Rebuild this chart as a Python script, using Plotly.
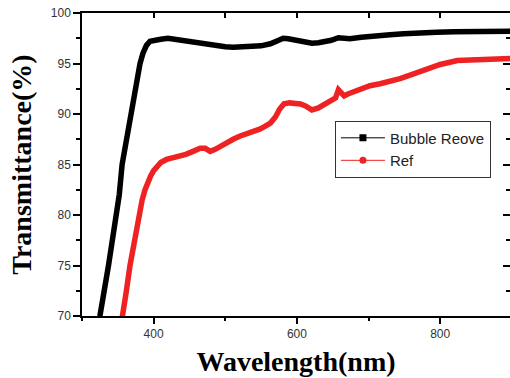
import plotly.graph_objects as go

# ---- data ----
wl_bubble = [318, 325, 337, 347, 352, 356, 362, 368, 374, 381, 385, 390, 395, 400, 410, 420,
             430, 442, 455, 465, 477, 488, 500, 511, 525, 539, 550, 563, 572, 581, 588, 595,
             609, 621, 630, 637, 648, 658, 665, 674, 690, 702, 712, 730, 749, 770, 795, 820,
             842, 865, 888, 900]
t_bubble = [67.5, 70, 75, 80, 82, 85, 87.5, 90, 92.5, 95, 96, 96.8, 97.2, 97.3, 97.4, 97.5,
            97.4, 97.15, 97.05, 96.95, 96.8, 96.7, 96.65, 96.62, 96.65, 96.68, 96.75, 96.95, 97.2, 97.5, 97.45, 97.35,
            97.2, 97.0, 97.05, 97.12, 97.3, 97.55, 97.45, 97.45, 97.6, 97.7, 97.8, 97.85, 97.95, 98.05, 98.1, 98.15,
            98.18, 98.2, 98.2, 98.2]

wl_ref = [352, 357, 362, 367, 373, 379, 384, 388, 392, 396, 400, 405, 410, 418, 425, 435,
          445, 455, 465, 472, 479, 486, 495, 503, 511, 520, 530, 539, 548, 556, 563, 570,
          576, 582, 590, 598, 605, 612, 621, 630, 637, 644, 649, 654, 658, 662, 666, 672,
          680, 690, 702, 716, 730, 744, 760, 782, 800, 824, 842, 861, 880, 900]
t_ref = [68, 70, 72.5, 75, 77.5, 80, 81.5, 82.5, 83.3, 83.9, 84.4, 84.9, 85.2, 85.5, 85.6, 85.8,
         86.0, 86.3, 86.6, 86.6, 86.3, 86.5, 86.9, 87.2, 87.5, 87.8, 88.0, 88.3, 88.5, 88.8, 89.1, 89.7,
         90.5, 91.0, 91.1, 91.05, 91.0, 90.8, 90.4, 90.6, 90.9, 91.2, 91.4, 91.6, 92.4, 92.1, 91.8, 92.0,
         92.2, 92.5, 92.8, 93.0, 93.2, 93.5, 93.9, 94.5, 94.9, 95.3, 95.35, 95.5, 95.55, 95.5]

series_names = ["Bubble Reove", "Ref"]
x_ticks = [400, 600, 800]
y_ticks = [70, 75, 80, 85, 90, 95, 100]

XR = [300, 897.5]
YR = [70, 100]

fig = go.Figure()

# thick data curves
fig.add_trace(go.Scatter(x=wl_bubble, y=t_bubble, mode="lines",
                         line=dict(color="black", width=5.5), showlegend=False, hoverinfo="skip"))
fig.add_trace(go.Scatter(x=wl_ref, y=t_ref, mode="lines",
                         line=dict(color="#ee2222", width=5.5), showlegend=False, hoverinfo="skip"))

# legend entries (line + symbol, as in the reference legend)
fig.add_trace(go.Scatter(x=[None], y=[None], mode="lines+markers", name=series_names[0],
                         line=dict(color="black", width=1),
                         marker=dict(symbol="square", size=7, color="black"),
                         xaxis="x2", yaxis="y2"))
fig.add_trace(go.Scatter(x=[None], y=[None], mode="lines+markers", name=series_names[1],
                         line=dict(color="#ee2222", width=1),
                         marker=dict(symbol="circle", size=7, color="#ee2222"),
                         xaxis="x2", yaxis="y2"))

tickfont = dict(family="Liberation Sans, Arial, sans-serif", size=12, color="#333333")
titlefont = dict(family="Liberation Serif, Times New Roman, serif", size=28, color="black", weight="bold")

fig.update_layout(
    width=510, height=378,
    margin=dict(l=82, r=0, t=13, b=62),
    paper_bgcolor="white", plot_bgcolor="white",
    showlegend=True,
    legend=dict(x=0.591, y=0.645, xanchor="left", yanchor="top",
                bgcolor="white", bordercolor="#333333", borderwidth=1,
                font=dict(family="Liberation Sans, Arial, sans-serif", size=15, color="#222222"),
                itemwidth=44, tracegroupgap=0),
    xaxis=dict(range=XR, tickmode="array", tickvals=x_ticks,
               ticks="outside", ticklen=6, tickwidth=1.5, tickcolor="black",
               minor=dict(tickmode="array", tickvals=[300, 500, 700], ticks="outside", ticklen=3,
                          tickwidth=1.5, tickcolor="black"),
               showline=True, linecolor="black", linewidth=1.5,
               showgrid=False, zeroline=False, tickfont=tickfont,
               title=dict(text="Wavelength(nm)", font=titlefont, standoff=11)),
    yaxis=dict(range=YR, tickmode="array", tickvals=y_ticks,
               ticks="outside", ticklen=7, tickwidth=1.5, tickcolor="black",
               minor=dict(tickmode="array", tickvals=[72.5, 77.5, 82.5, 87.5, 92.5, 97.5],
                          ticks="outside", ticklen=4, tickwidth=1.5, tickcolor="black"),
               showline=True, linecolor="black", linewidth=1.5,
               showgrid=False, zeroline=False, tickfont=tickfont,
               title=dict(text="Transmittance(%)", font=titlefont, standoff=11)),
    xaxis2=dict(range=XR, overlaying="x", side="top", tickmode="array",
                tickvals=[400, 500, 600, 700, 800],
                ticks="inside", ticklen=5, tickwidth=1.5, tickcolor="black",
                showticklabels=False, showline=True, linecolor="black", linewidth=1.5,
                showgrid=False, zeroline=False),
    yaxis2=dict(range=YR, overlaying="y", side="right", tickmode="array", tickvals=y_ticks,
                ticks="inside", ticklen=7, tickwidth=1.5, tickcolor="black",
                minor=dict(tickmode="array", tickvals=[72.5, 77.5, 82.5, 87.5, 92.5, 97.5],
                           ticks="inside", ticklen=4, tickwidth=1.5, tickcolor="black"),
                showticklabels=False, showline=False,
                showgrid=False, zeroline=False),
)

fig.write_html("out.html", config={"displayModeBar": False},
               post_script="document.body.style.margin='0';document.body.style.overflow='hidden';")
